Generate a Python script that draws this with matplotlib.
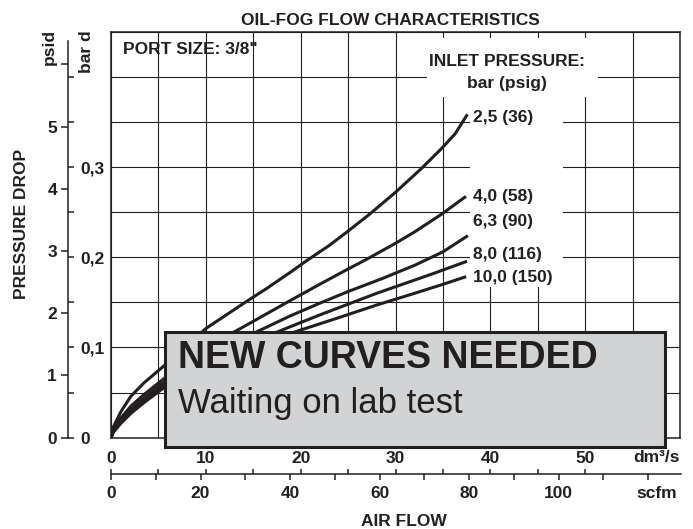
import numpy as np
import matplotlib
matplotlib.use('Agg')
import matplotlib.pyplot as plt
from matplotlib.patches import Rectangle

plt.rcParams['font.family'] = ['Liberation Sans', 'DejaVu Sans']
plt.rcParams['font.weight'] = 'bold'
INK = '#231f20'

# curves: air flow in dm3/s, pressure drop in bar
flow_25 = [0, 0.25, 1.05, 2.1, 3.5, 4.85, 7.5, 10, 12, 14, 16.5, 19, 20.6, 23, 25, 27.3, 30, 32.8, 34.9, 36.3, 37.5]
dp_25 = [0, 0.012, 0.029, 0.046, 0.061, 0.073, 0.097, 0.121, 0.135, 0.149, 0.166, 0.184, 0.196, 0.213, 0.229, 0.248, 0.272, 0.299, 0.321, 0.337, 0.357]

flow_40 = [0, 0.25, 1.05, 2.1, 3.5, 5.4, 8, 10, 12.7, 15, 18.9, 22, 25, 27, 30, 32, 34.9, 37.3]
dp_40 = [0, 0.009, 0.022, 0.035, 0.048, 0.064, 0.084, 0.097, 0.1155, 0.129, 0.152, 0.170, 0.187, 0.198, 0.2155, 0.228, 0.248, 0.2665]

flow_63 = [0, 0.25, 1.05, 2.1, 3.5, 5.4, 8, 10, 12.5, 15.3, 18.9, 22, 25, 28.5, 32, 35, 37.5]
dp_63 = [0, 0.008, 0.020, 0.031, 0.044, 0.060, 0.077, 0.089, 0.103, 0.117, 0.135, 0.149, 0.162, 0.176, 0.191, 0.206, 0.223]

flow_80 = [0, 0.25, 1.05, 2.1, 3.5, 5.4, 8, 10, 13, 17.5, 18.9, 22, 25, 28, 31, 34, 37.4]
dp_80 = [0, 0.007, 0.018, 0.029, 0.041, 0.057, 0.073, 0.083, 0.098, 0.117, 0.123, 0.136, 0.148, 0.160, 0.171, 0.182, 0.195]

flow_100 = [0, 0.25, 1.05, 2.1, 3.5, 5.4, 8, 10, 14, 17, 19.9, 24, 28, 32, 35, 37.3]
dp_100 = [0, 0.006, 0.016, 0.027, 0.039, 0.054, 0.069, 0.079, 0.097, 0.109, 0.119, 0.133, 0.147, 0.160, 0.170, 0.178]

curves = [(flow_25, dp_25), (flow_40, dp_40), (flow_63, dp_63), (flow_80, dp_80), (flow_100, dp_100)]
curve_labels = ['2,5 (36)', '4,0 (58)', '6,3 (90)', '8,0 (116)', '10,0 (150)']
label_dp = [0.355, 0.267, 0.240, 0.203, 0.178]

dm_ticks = [0, 5, 10, 15, 20, 25, 30, 35, 40, 45, 50]
dm_labels = ['0', '', '10', '', '20', '', '30', '', '40', '', '50']
scfm_ticks = [0, 10, 20, 30, 40, 50, 60, 70, 80, 90, 100, 110, 120]
scfm_labels = ['0', '', '20', '', '40', '', '60', '', '80', '', '100', '', '']
psi_ticks = [0, 1, 2, 3, 4, 5, 6]
psi_labels = ['0', '1', '2', '3', '4', '5', '']
bar_ticks = [0, 0.05, 0.1, 0.15, 0.2, 0.25, 0.3, 0.35, 0.4]
bar_labels = ['0', '', '0,1', '', '0,2', '', '0,3', '', '']

PSI_PER_BAR = 14.5038
DM_PER_SCFM = 0.47195

W, H = 693, 529
fig = plt.figure(figsize=(W / 100, H / 100), dpi=100)


def fx(px):
    return px / W


def fy(py):
    return 1 - py / H


L, R, T, B = 111, 680, 31.7, 437.7
ax = fig.add_axes([fx(L), fy(B), fx(R) - fx(L), fy(T) - fy(B)])
ax.set_xlim(0, 60)
ax.set_ylim(0, 0.45)
ax.set_xticks(np.arange(0, 61, 5))
ax.set_yticks(np.arange(0, 0.451, 0.05))
ax.tick_params(length=0, labelbottom=False, labelleft=False)
ax.grid(True, color=INK, lw=0.8)
ax.set_axisbelow(True)
for s in ax.spines.values():
    s.set_color(INK)
    s.set_linewidth(1.1)

# white areas behind the legend texts
ax.add_patch(Rectangle((33.3, 0.378), 18.05, 0.0645, fc='white', ec='none', zorder=1))
ax.add_patch(Rectangle((37.9, 0.167), 9.8, 0.2755, fc='white', ec='none', zorder=1))

for (fl, dp) in curves:
    ax.plot(fl, dp, color=INK, lw=2.2, zorder=2)
for lab, ly in zip(curve_labels, label_dp):
    ax.text(38.2, ly, lab, ha='left', va='center', fontsize=12.5, color=INK, zorder=3)

ax.text(41.8, 0.417, 'INLET PRESSURE:', ha='center', va='center', fontsize=12.5, color=INK, zorder=3)
ax.text(41.8, 0.393, 'bar (psig)', ha='center', va='center', fontsize=12.5, color=INK, zorder=3)

# placeholder box
ax.add_patch(Rectangle((5.7, -0.0103), 52.7, 0.1278, fc='#d1d3d4', ec=INK, lw=2.2,
                       zorder=4, clip_on=False))
fig.text(fx(178), fy(358.3), 'NEW CURVES NEEDED', ha='left', va='center',
         fontsize=27, color=INK, zorder=5)
fig.text(fx(178), fy(404), 'Waiting on lab test', ha='left', va='center',
         fontsize=25, fontweight='normal', color=INK, zorder=5)

# bottom flow scale
sax = fig.add_axes([fx(L), fy(474.3), fx(681) - fx(L), 1e-4])
sax.set_xlim(0, 60 * (681 - L) / (R - L))
sax.set_yticks([])
for k in ['left', 'right', 'top']:
    sax.spines[k].set_visible(False)
sax.spines['bottom'].set_color(INK)
sax.spines['bottom'].set_linewidth(1.1)
sax.xaxis.set_ticks_position('top')
sax.xaxis.set_label_position('top')
sax.set_xticks(dm_ticks, dm_labels)
sax.tick_params(axis='x', direction='out', length=3.8, width=1.1, color=INK,
                labelsize=12.5, labelcolor=INK, pad=2)
sec = sax.secondary_xaxis('bottom', functions=(lambda d: d / DM_PER_SCFM, lambda s: s * DM_PER_SCFM))
sec.set_xticks(scfm_ticks, scfm_labels)
sec.tick_params(axis='x', direction='out', length=4.2, width=1.1, color=INK,
                labelsize=12.5, labelcolor=INK, pad=4.5)
sec.spines['bottom'].set_visible(False)

# left pressure scale
yax = fig.add_axes([fx(68.3), fy(B), 1e-4, fy(T) - fy(B)])
yax.set_ylim(0, 0.45)
yax.set_xticks([])
for k in ['left', 'top', 'bottom']:
    yax.spines[k].set_visible(False)
yax.spines['right'].set_color(INK)
yax.spines['right'].set_linewidth(1.1)
yax.spines['right'].set_bounds(0, 0.44)
yax.yaxis.tick_right()
yax.set_yticks(bar_ticks, bar_labels)
yax.tick_params(axis='y', direction='out', length=4.3, width=1.1, color=INK,
                labelsize=12.5, labelcolor=INK, pad=4)
psec = yax.secondary_yaxis('left', functions=(lambda b: b * PSI_PER_BAR, lambda p: p / PSI_PER_BAR))
psec.set_yticks(psi_ticks, psi_labels)
psec.tick_params(axis='y', direction='out', length=4.8, width=1.1, color=INK,
                 labelsize=12.5, labelcolor=INK, pad=3.3)
psec.spines['left'].set_visible(False)

# texts around the chart
fig.text(fx(390), fy(20.5), 'OIL-FOG FLOW CHARACTERISTICS', ha='center', va='center', fontsize=12.5, color=INK)
fig.text(fx(123), fy(49.2), 'PORT SIZE: 3/8"', ha='left', va='center', fontsize=12.5, color=INK)
fig.text(fx(49), fy(47), 'psid', ha='center', va='center', rotation=90, fontsize=12.5, color=INK)
fig.text(fx(86.7), fy(52), 'bar d', ha='center', va='center', rotation=90, fontsize=12.5, color=INK)
fig.text(fx(22), fy(224), 'PRESSURE DROP', ha='center', va='center', rotation=90, fontsize=12.5, color=INK)
fig.text(fx(680), fy(457), 'dm³/s', ha='right', va='center', fontsize=12.5, color=INK)
fig.text(fx(677), fy(494), 'scfm', ha='right', va='center', fontsize=12.5, color=INK)
fig.text(fx(404), fy(521), 'AIR FLOW', ha='center', va='center', fontsize=12.5, color=INK)

fig.savefig('out.png', dpi=100)
